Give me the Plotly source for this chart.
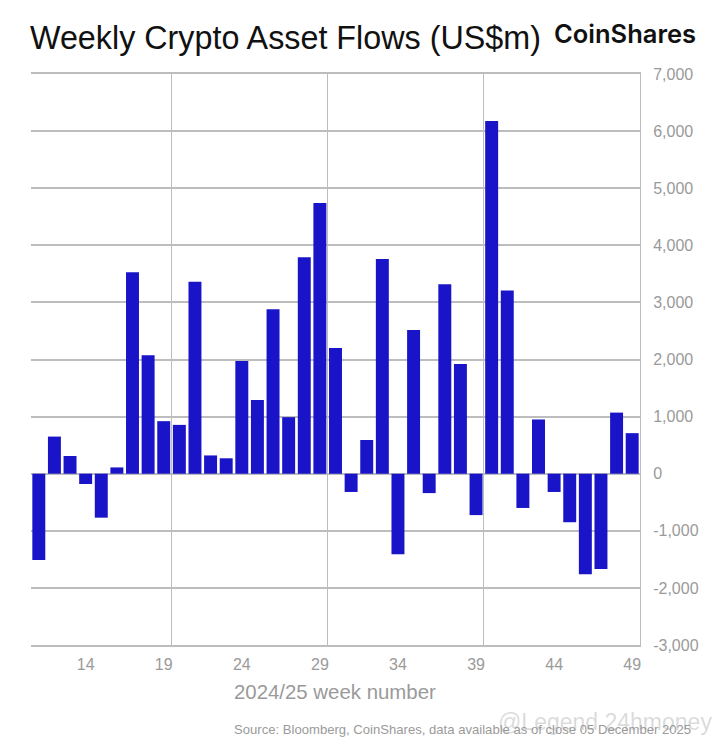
import plotly.graph_objects as go

weeks = list(range(11, 50))
flows = [-1510, 650, 310, -180, -770, 110, 3530, 2075, 920, 855, 3360, 320, 270,
         1975, 1290, 2880, 990, 3790, 4740, 2200, -320, 590, 3760, -1410, 2515,
         -340, 3320, 1920, -725, 6175, 3210, -600, 950, -320, -850, -1760, -1670,
         1070, 710]
x_ticks = [14, 19, 24, 29, 34, 39, 44, 49]
x_grid = [19.5, 29.5, 39.5]
y_ticks = list(range(-3000, 8000, 1000))
y_labels = [f"{v:,}" for v in y_ticks]

title = "Weekly Crypto Asset Flows (US$m)"
brand = "CoinShares"
x_title = "2024/25 week number"
source = "Source: Bloomberg, CoinShares, data available as of close 05 December 2025"
mark = "@Legend 24hmoney"

W, H = 720, 747
GREY = "#9a9a9a"
GRID = "#bdbdbd"
FONT = "Liberation Sans, Arial, sans-serif"

fig = go.Figure(go.Bar(x=weeks, y=flows, marker=dict(color="#1a14c8", line=dict(width=0)),
                       width=0.83))
fig.update_layout(
    width=W, height=H, autosize=False,
    margin=dict(l=31, r=80, t=74, b=102, pad=0),
    paper_bgcolor="white", plot_bgcolor="white",
    font=dict(family=FONT, color=GREY),
    showlegend=False,
    xaxis=dict(range=[10.5, 49.5], tickmode="array", tickvals=x_ticks, ticks="",
               showgrid=False, zeroline=False, showline=True, mirror=True,
               linecolor=GRID, linewidth=1.5, ticklabelstandoff=4,
               tickfont=dict(size=16, color=GREY),
               minor=dict(tickmode="array", tickvals=x_grid, showgrid=True,
                          gridcolor=GRID, gridwidth=1, ticks="")),
    yaxis=dict(range=[-3000, 7000], side="right", tickmode="array", tickvals=y_ticks,
               ticktext=y_labels, ticks="", showgrid=True, gridcolor=GRID, gridwidth=1.5,
               zeroline=True, zerolinecolor=GRID, zerolinewidth=1.5, showline=True,
               linecolor=GRID, linewidth=1,
               ticklabelstandoff=9, tickfont=dict(size=16, color=GREY)),
)
def px_note(text, x, y, size, color, family=FONT, weight="normal"):
    return dict(text=text, x=(x - 31) / (W - 111), y=1 - (y - 74) / (H - 176),
                xref="paper", yref="paper", xanchor="left", yanchor="middle",
                showarrow=False,
                font=dict(size=size, color=color, family=family, weight=weight))
fig.layout.annotations = [
    px_note(title, 28, 38, 32.3, "#111111"),
    px_note(brand, 552, 33, 25.5, "#111111", family="Inter", weight=600),
    px_note(x_title, 232, 692, 20.4, GREY),
    px_note(source, 232, 729, 13.1, GREY),
    px_note(mark, 496, 722, 23, "rgba(150,150,150,0.35)"),
]
fig.write_html("out.html", post_script="document.body.style.margin='0';",
               config={"displayModeBar": False})
